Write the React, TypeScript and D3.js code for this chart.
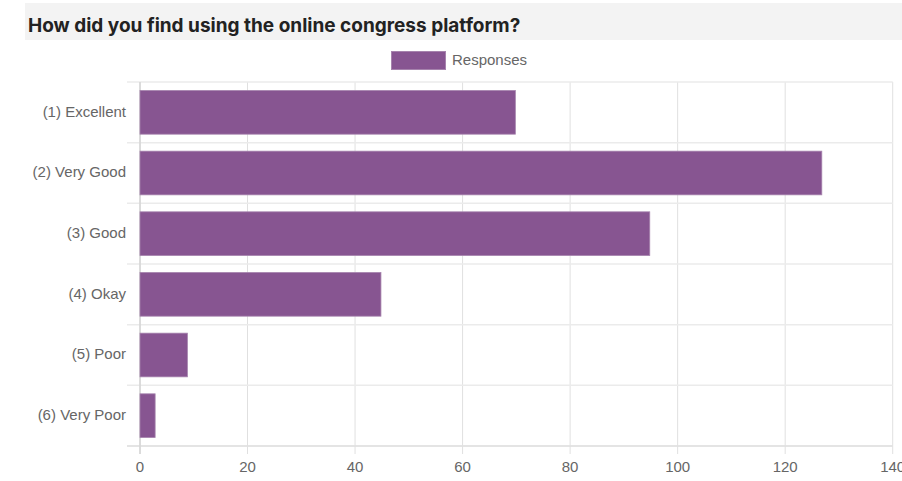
import React from "react";
import * as d3 from "d3";

const categories = ["(1) Excellent", "(2) Very Good", "(3) Good", "(4) Okay", "(5) Poor", "(6) Very Poor"];
const responses = [70, 127, 95, 45, 9, 3];
const xTicks = [0, 20, 40, 60, 80, 100, 120, 140];
const seriesName = "Responses";
const title = "How did you find using the online congress platform?";

export default function App() {
  const W = 902, H = 481;
  const left = 140, right = 892.7, top = 82, bottom = 446;
  const x = d3.scaleLinear().domain([0, 140]).range([left, right]);
  const y = d3.scaleBand().domain(categories).range([top, bottom]).paddingInner(0).paddingOuter(0);
  const bw = y.bandwidth();
  const barH = bw * 0.72;
  const purple = "#875591";
  const font = "'Liberation Sans', Arial, Helvetica, sans-serif";
  const boundaries = d3.range(categories.length + 1).map(i => top + i * bw);

  return (
    <svg width={W} height={H} style={{ position: "absolute", left: 0, top: 0, background: "#fff" }}>
      <rect x={25} y={3} width={W - 25} height={37} fill="#f3f3f3" />
      <text x={28} y={32} fontFamily="Inter, sans-serif" fontWeight="bold" fontSize={19} fill="#222">{title}</text>

      <rect x={391.5} y={51.5} width={54} height={18} fill={purple} stroke="#a683ad" strokeWidth={1} />
      <text x={452} y={65} fontFamily={font} fontSize={15} fill="#666">{seriesName}</text>

      {xTicks.map(t => (
        <line key={"v" + t} x1={x(t)} x2={x(t)} y1={top} y2={bottom + 8} stroke="#e0e0e0" strokeWidth={1} />
      ))}
      {boundaries.map((b, i) => (
        <line key={"h" + i} x1={127} x2={right} y1={b} y2={b} stroke="#ebebeb" strokeWidth={1.5} />
      ))}
      <line x1={left} x2={left} y1={top} y2={bottom + 8} stroke="#c8c8c8" strokeWidth={1} />
      <line x1={127} x2={right} y1={bottom} y2={bottom} stroke="#d8d8d8" strokeWidth={1} />

      {categories.map((c, i) => (
        <rect key={c} x={x(0)} y={(y(c) as number) + (bw - barH) / 2} width={x(responses[i]) - x(0) - 1} height={barH}
          fill={purple} stroke="#a683ad" strokeWidth={0.8} />
      ))}

      {categories.map(c => (
        <text key={"l" + c} x={126} y={(y(c) as number) + bw / 2 - 1} dy="0.35em" textAnchor="end"
          fontFamily={font} fontSize={15} fill="#666">{c}</text>
      ))}
      {xTicks.map(t => (
        <text key={"t" + t} x={x(t)} y={472} textAnchor="middle" fontFamily={font} fontSize={15} fill="#666">{t}</text>
      ))}
    </svg>
  );
}
